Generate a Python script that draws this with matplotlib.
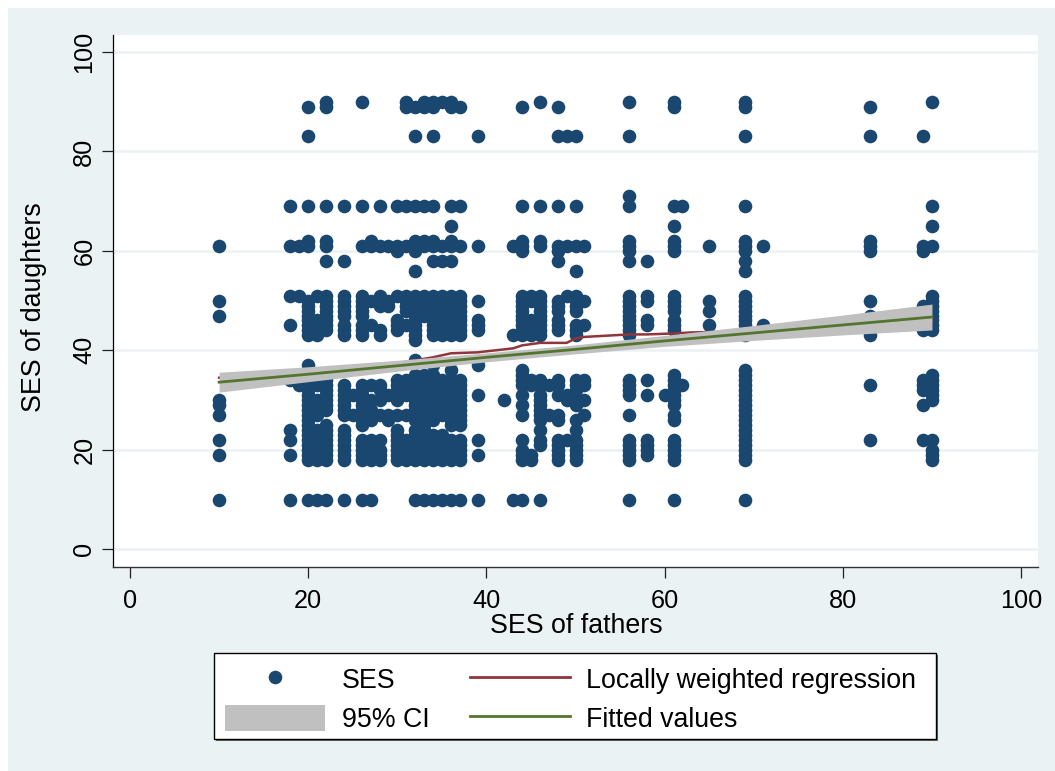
import matplotlib
matplotlib.use('Agg')
import matplotlib.pyplot as plt
from matplotlib.lines import Line2D
from matplotlib.patches import Patch, Rectangle

plt.rcParams['font.family'] = ['Liberation Sans', 'DejaVu Sans']

father_ses = [10, 18, 19, 20, 21, 22, 24, 25, 26, 27, 28, 29, 30, 31, 32, 33, 34,
              35, 36, 37, 39, 42, 43, 44, 45, 46, 47, 48, 49, 50, 51, 56, 58, 60,
              61, 62, 65, 69, 71, 83, 89, 90]
d10 = [10, 19, 22, 27, 29, 30, 47, 50, 61]
d18 = [10, 19, 22, 24, 34, 45, 51, 61, 69]
d19 = [33, 34, 51, 61]
d20 = [10, 18, 19, 20, 21, 22, 23, 24, 25, 26, 27, 28, 29, 30, 31, 32, 33, 34, 37,
       43, 44, 45, 46, 47, 48, 49, 50, 61, 62, 69, 83, 89]
d21 = [10, 18, 19, 20, 21, 22, 24, 27, 28, 30, 33, 43, 44, 45, 46, 51]
d22 = [10, 18, 19, 20, 21, 22, 23, 24, 25, 28, 29, 30, 31, 32, 33, 34, 44, 45, 46,
       47, 48, 49, 50, 51, 58, 61, 62, 69, 89, 90]
d24 = [10, 18, 19, 20, 21, 22, 23, 24, 27, 28, 29, 30, 31, 32, 33, 43, 44, 45, 47,
       48, 49, 50, 51, 58, 69]
d25 = [27, 31]
d26 = [10, 18, 19, 20, 21, 22, 25, 26, 27, 28, 29, 30, 31, 32, 33, 43, 44, 45, 47,
       48, 49, 50, 51, 61, 69, 90]
d27 = [10, 18, 19, 20, 22, 26, 27, 28, 30, 33, 45, 50, 61, 62]
d28 = [18, 19, 20, 22, 27, 30, 32, 33, 43, 44, 49, 50, 51, 61, 69]
d29 = [26, 27, 31, 49, 50, 61]
d30 = [18, 19, 20, 21, 22, 23, 24, 27, 30, 31, 32, 33, 34, 44, 45, 46, 51, 60, 61, 69]
d31 = [18, 19, 20, 21, 22, 27, 31, 32, 33, 34, 45, 48, 49, 50, 51, 61, 69, 89, 90]
d32 = [10, 18, 19, 20, 21, 22, 23, 24, 26, 27, 28, 29, 30, 31, 32, 33, 34, 35, 38,
       42, 43, 44, 45, 46, 47, 48, 49, 50, 51, 56, 60, 61, 62, 69, 83, 89]
d33 = [10, 18, 19, 20, 21, 22, 24, 25, 26, 27, 29, 30, 31, 32, 33, 34, 35, 47, 48,
       49, 50, 51, 61, 62, 69, 89, 90]
d34 = [10, 18, 19, 20, 21, 22, 23, 26, 27, 28, 29, 30, 31, 32, 33, 34, 35, 37, 43,
       44, 45, 46, 47, 48, 49, 50, 51, 58, 61, 62, 69, 83, 89, 90]
d35 = [10, 18, 19, 20, 21, 22, 23, 27, 28, 29, 30, 31, 32, 33, 34, 43, 44, 46, 47,
       48, 49, 50, 51, 58, 61, 90]
d36 = [10, 18, 19, 20, 21, 22, 25, 26, 27, 28, 29, 30, 31, 32, 33, 34, 36, 43, 44,
       45, 46, 47, 48, 49, 50, 51, 58, 61, 62, 65, 69, 89, 90]
d37 = [10, 18, 19, 20, 21, 22, 25, 26, 27, 28, 29, 30, 31, 32, 33, 34, 43, 44, 45,
       46, 47, 48, 49, 50, 51, 61, 69, 89]
d39 = [10, 19, 22, 31, 37, 44, 45, 46, 50, 61, 83]
d42 = [30]
d43 = [10, 43, 61]
d44 = [10, 18, 19, 20, 22, 27, 29, 31, 33, 34, 35, 36, 43, 44, 45, 46, 47, 48, 49,
       50, 51, 60, 61, 62, 69, 89]
d45 = [18, 19, 33, 34, 43, 44, 46, 50, 51]
d46 = [10, 21, 22, 24, 26, 27, 28, 29, 30, 31, 33, 34, 43, 44, 45, 46, 47, 48, 49,
       50, 51, 61, 62, 69, 90]
d47 = [27, 33]
d48 = [18, 19, 20, 21, 22, 26, 27, 31, 33, 34, 44, 45, 46, 48, 49, 50, 58, 60, 61, 69, 83, 89]
d49 = [22, 30, 31, 51, 61, 83]
d50 = [18, 19, 20, 21, 22, 24, 26, 29, 30, 32, 33, 34, 43, 44, 45, 48, 49, 50, 51, 56, 61, 69, 83]
d51 = [27, 30, 33, 34, 45, 50, 61]
d56 = [10, 18, 19, 20, 21, 22, 27, 31, 32, 33, 34, 43, 44, 45, 46, 47, 48, 49, 50, 51, 58, 60, 61, 62, 69, 71, 83, 90]
d58 = [19, 20, 21, 22, 31, 34, 45, 46, 50, 51, 58]
d60 = [31]
d61 = [10, 18, 19, 20, 21, 22, 26, 27, 29, 30, 31, 32, 33, 34, 35, 44, 45, 46, 48, 49, 50, 51, 60, 61, 62, 65, 69, 89, 90]
d62 = [33, 69]
d65 = [45, 48, 50, 61]
d69 = [10, 18, 19, 20, 21, 22, 23, 24, 25, 26, 27, 28, 29, 30, 31, 32, 33, 34, 35, 36, 43, 44,
       45, 46, 47, 48, 49, 50, 51, 56, 58, 60, 61, 62, 69, 83, 89, 90]
d71 = [45, 61]
d83 = [22, 33, 43, 44, 45, 47, 50, 60, 61, 62, 83, 89]
d89 = [22, 29, 32, 33, 34, 44, 45, 46, 47, 48, 49, 60, 61, 83]
d90 = [18, 19, 20, 22, 30, 31, 32, 33, 34, 35, 44, 45, 46, 47, 48, 49, 50, 51, 61, 65, 69, 90]
daughter_ses = [d10, d18, d19, d20, d21, d22, d24, d25, d26, d27, d28, d29, d30, d31, d32, d33, d34,
                d35, d36, d37, d39, d42, d43, d44, d45, d46, d47, d48, d49, d50, d51, d56, d58, d60,
                d61, d62, d65, d69, d71, d83, d89, d90]

# fitted line and its confidence band
fit_x = [10, 20, 30, 40, 50, 60, 70, 80, 90]
fit_y = [33.6, 35.2, 36.9, 38.6, 40.2, 41.9, 43.5, 45.1, 46.7]
ci_low = [31.6, 33.7, 35.8, 37.7, 39.3, 40.8, 42.0, 43.1, 44.1]
ci_high = [35.6, 36.7, 38.0, 39.5, 41.1, 43.0, 45.0, 47.1, 49.3]

# lowess, only the 34-63 part shows above the band
lowess_x = [10, 20, 30, 34, 36, 39, 43, 44, 46, 48, 49, 50, 51, 56, 58, 61, 63, 69, 83, 90]
lowess_y = [34.5, 35.8, 37.4, 38.6, 39.4, 39.6, 40.4, 41.0, 41.5, 41.5, 41.5, 42.4, 42.7, 43.2,
            43.2, 43.4, 43.6, 43.8, 45.0, 46.0]

navy = '#1a476f'
maroon = '#90353b'
green = '#55752f'
band = '#c0c0c0'
bg = '#eaf2f3'
W, H = 1055, 771

fig = plt.figure(figsize=(W / 100, H / 100), dpi=100, facecolor='white')
fig.add_artist(Rectangle((8 / W, 0), 1 - 8 / W, 1 - 8 / H, transform=fig.transFigure,
                         facecolor=bg, edgecolor='none', zorder=-1))
ax = fig.add_axes([113 / W, 1 - 567 / H, (1038 - 113) / W, (567 - 35) / H])

for x, ys in zip(father_ses, daughter_ses):
    ax.plot([x] * len(ys), ys, 'o', color=navy, ms=9.8, mew=0, zorder=3, clip_on=False)
ax.plot(lowess_x, lowess_y, color=maroon, lw=1.8, zorder=4)
ax.fill_between(fit_x, ci_low, ci_high, color=band, lw=0, zorder=5)
ax.plot(fit_x, fit_y, color=green, lw=2.0, zorder=6)

ax.set_xlim(-1.91, 101.9)
ax.set_ylim(-3.56, 103.4)
ax.set_xticks([0, 20, 40, 60, 80, 100])
ax.set_yticks([0, 20, 40, 60, 80, 100])
ax.grid(axis='y', color=bg, lw=1.8, zorder=1)
ax.set_axisbelow(True)
ax.tick_params(length=8, width=0.9, color='#222222', labelsize=18.2)
ax.tick_params(axis='x', pad=7.5)
ax.tick_params(axis='y', pad=4)
for lab in ax.get_yticklabels():
    lab.set_rotation(90)
    lab.set_va('center')
ax.spines['top'].set_visible(False)
ax.spines['right'].set_visible(False)
ax.spines['left'].set_linewidth(0.9)
ax.spines['bottom'].set_linewidth(1.0)
ax.spines['bottom'].set_color('#333333')

fig.text(576 / W, 1 - 626 / H, 'SES of fathers', fontsize=19.3, ha='center', va='center')
fig.text(34 / W, 1 - 307 / H, 'SES of daughters', fontsize=19.3, rotation=90, ha='center', va='center')

# legend box drawn by hand so the insets match, shadow first
fig.add_artist(Rectangle((215.5 / W, 1 - 740.5 / H), 722 / W, 86 / H, transform=fig.transFigure,
                         facecolor='#666666', edgecolor='none', zorder=1))
fig.add_artist(Rectangle((214 / W, 1 - 739 / H), 722 / W, 86 / H, transform=fig.transFigure,
                         facecolor='white', edgecolor='black', lw=1.0, zorder=2))
handles = [Line2D([], [], ls='none', marker='o', color=navy, ms=9.8, mew=0),
           Patch(facecolor=band, edgecolor='none'),
           Line2D([], [], color=maroon, lw=2.0),
           Line2D([], [], color=green, lw=2.0)]
labels = ['SES', '95% CI', 'Locally weighted regression', 'Fitted values']
leg = fig.legend(handles, labels, ncol=2, loc='upper left', bbox_to_anchor=(225.5 / W, 1 - 666 / H),
                 fontsize=19.3, frameon=False, borderpad=0, borderaxespad=0,
                 handlelength=3.73, handleheight=1.1, handletextpad=0.6, columnspacing=1.5,
                 labelspacing=0.42)
leg.set_zorder(5)

fig.savefig('out.png', dpi=100, facecolor=fig.get_facecolor())
